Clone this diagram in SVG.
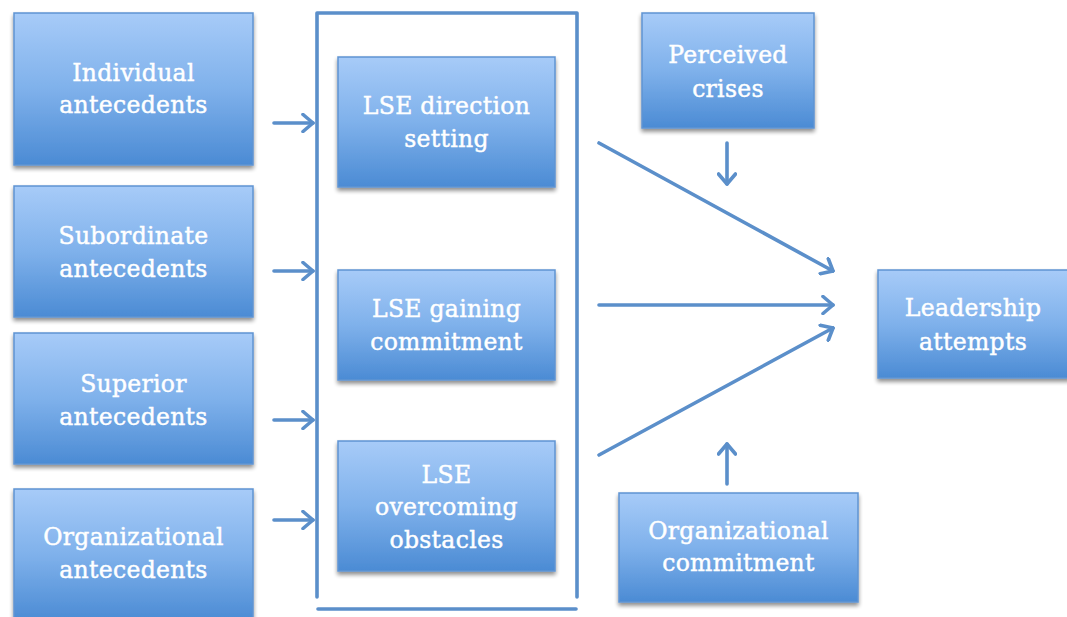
<svg xmlns="http://www.w3.org/2000/svg" width="1067" height="617" viewBox="0 0 1067 617">
  <defs>
    <linearGradient id="boxFill" x1="0" y1="0" x2="0" y2="1">
      <stop offset="0" stop-color="#a7cbf8"/>
      <stop offset="0.5" stop-color="#7fb1eb"/>
      <stop offset="1" stop-color="#4b8bd4"/>
    </linearGradient>
    <filter id="shadow" x="-10%" y="-10%" width="120%" height="130%">
      <feGaussianBlur in="SourceAlpha" stdDeviation="2.2"/>
      <feOffset dx="0" dy="3" result="b"/>
      <feComponentTransfer><feFuncA type="linear" slope="0.45"/></feComponentTransfer>
      <feMerge><feMergeNode/><feMergeNode in="SourceGraphic"/></feMerge>
    </filter>
    <marker id="chevron" markerUnits="userSpaceOnUse" viewBox="-12 -10 14 20" refX="0" refY="0" markerWidth="14" markerHeight="20" orient="auto">
      <polyline points="-10,-8.5 0,0 -10,8.5" fill="none" stroke="#5b8fca" stroke-width="3.6" stroke-linecap="round" stroke-linejoin="round"/>
    </marker>
  </defs>
  <style>
    .box { fill: url(#boxFill); stroke: #5f94d2; stroke-width: 1.5; filter: url(#shadow); }
    .lbl { font-family: "DejaVu Serif", "Liberation Serif", serif; font-size: 23.5px; fill: #ffffff; stroke: #ffffff; stroke-width: 0.45; text-anchor: middle; letter-spacing: 0.3px; }
    .conn { fill: none; stroke: #5b8fca; stroke-width: 3.6; stroke-linecap: round; }
    .arrow { marker-end: url(#chevron); }
  </style>
  <rect width="1067" height="617" fill="#ffffff"/>

  <!-- connectors -->
  <g id="connectors">
    <path class="conn" d="M317,597 V13 H577 V597" stroke-linejoin="round"/>
    <path class="conn" d="M318,609 H576"/>
    <path class="conn arrow" d="M274,123 H313"/>
    <path class="conn arrow" d="M274,271 H313"/>
    <path class="conn arrow" d="M274,420 H313"/>
    <path class="conn arrow" d="M274,520 H313"/>
    <path class="conn arrow" d="M599,143 L833,271"/>
    <path class="conn arrow" d="M599,305 H833"/>
    <path class="conn arrow" d="M599,455 L833,328"/>
    <path class="conn arrow" d="M727,143 V184"/>
    <path class="conn arrow" d="M727,484 V444"/>
  </g>

  <!-- antecedent boxes -->
  <g id="individual">
    <rect class="box" x="14" y="13" width="239" height="152"/>
    <text class="lbl" x="133.5" y="81">Individual</text>
    <text class="lbl" x="133.5" y="113">antecedents</text>
  </g>
  <g id="subordinate">
    <rect class="box" x="14" y="186" width="239" height="131"/>
    <text class="lbl" x="133.5" y="244">Subordinate</text>
    <text class="lbl" x="133.5" y="277">antecedents</text>
  </g>
  <g id="superior">
    <rect class="box" x="14" y="333" width="239" height="131"/>
    <text class="lbl" x="133.5" y="392">Superior</text>
    <text class="lbl" x="133.5" y="425">antecedents</text>
  </g>
  <g id="organizational-antecedents">
    <rect class="box" x="14" y="489" width="239" height="132"/>
    <text class="lbl" x="133.5" y="545">Organizational</text>
    <text class="lbl" x="133.5" y="578">antecedents</text>
  </g>

  <!-- LSE boxes -->
  <g id="lse-direction">
    <rect class="box" x="338" y="57" width="217" height="130"/>
    <text class="lbl" x="446.5" y="114">LSE direction</text>
    <text class="lbl" x="446.5" y="147">setting</text>
  </g>
  <g id="lse-commitment">
    <rect class="box" x="338" y="270" width="217" height="110"/>
    <text class="lbl" x="446.5" y="317">LSE gaining</text>
    <text class="lbl" x="446.5" y="350">commitment</text>
  </g>
  <g id="lse-obstacles">
    <rect class="box" x="338" y="441" width="217" height="130"/>
    <text class="lbl" x="446.5" y="483">LSE</text>
    <text class="lbl" x="446.5" y="515">overcoming</text>
    <text class="lbl" x="446.5" y="548">obstacles</text>
  </g>

  <!-- moderators and outcome -->
  <g id="perceived-crises">
    <rect class="box" x="642" y="13" width="172" height="115"/>
    <text class="lbl" x="728" y="63">Perceived</text>
    <text class="lbl" x="728" y="97">crises</text>
  </g>
  <g id="organizational-commitment">
    <rect class="box" x="619" y="493" width="239" height="109"/>
    <text class="lbl" x="738.5" y="539">Organizational</text>
    <text class="lbl" x="738.5" y="571">commitment</text>
  </g>
  <g id="leadership-attempts">
    <rect class="box" x="878" y="270" width="192" height="108"/>
    <text class="lbl" x="973" y="316">Leadership</text>
    <text class="lbl" x="973" y="350">attempts</text>
  </g>
</svg>
